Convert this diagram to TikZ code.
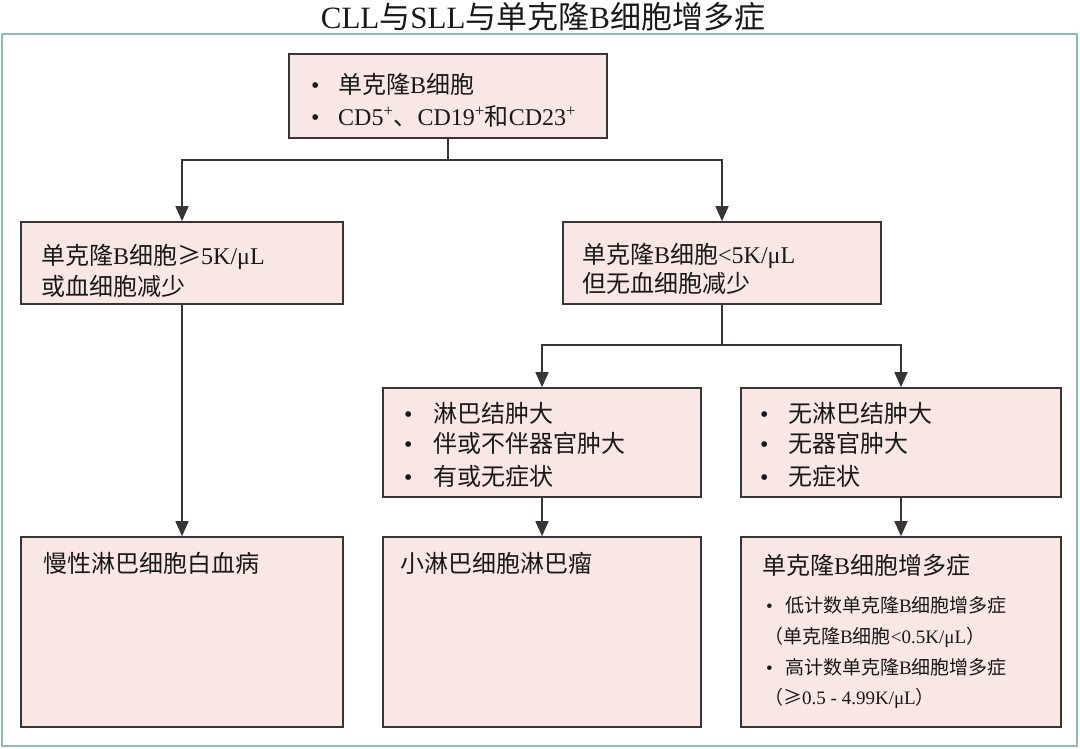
\documentclass[tikz,border=0pt]{standalone}
\usepackage{fontspec}
\setmainfont{Noto Sans CJK SC}
\newfontfamily\lat{Liberation Serif}
\usetikzlibrary{arrows.meta}
\definecolor{boxfill}{HTML}{F8E7E5}
\definecolor{boxline}{HTML}{3A3535}
\definecolor{framec}{HTML}{8DBDB2}
\newcommand{\bul}[1]{\makebox[#1][l]{\lat •}}
\begin{document}
\begin{tikzpicture}[x=1pt,y=-1pt,
  box/.style={draw=boxline, fill=boxfill, line width=1.6pt, inner sep=0pt},
  txt/.style={anchor=base west, inner sep=0pt, font=\fontsize{24}{28}\selectfont, text=black!90},
  small/.style={anchor=base west, inner sep=0pt, font=\fontsize{19}{23}\selectfont, text=black!90},
  arr/.style={draw=boxline, line width=1.4pt, -{Triangle[width=13pt,length=15pt]}},
  ln/.style={draw=boxline, line width=1.4pt}]
\useasboundingbox (0,0) rectangle (1080,749);
\fill[white] (0,0) rectangle (1080,749);
\draw[framec, line width=1.6pt] (2,34) rectangle (1077,746);
\node[font=\fontsize{31}{36}\selectfont, inner sep=0pt, text=black!90] (title) at (543,17)
  {{\lat CLL}与{\lat SLL}与单克隆{\lat B}细胞增多症};

% boxes
\node[box, minimum width=318pt, minimum height=84pt] (top) at (448,96) {};
\node[box, minimum width=322pt, minimum height=82pt] (left) at (182,263) {};
\node[box, minimum width=318pt, minimum height=82pt] (right) at (722,263) {};
\node[box, minimum width=318pt, minimum height=109pt] (slc) at (542,442.5) {};
\node[box, minimum width=320pt, minimum height=109pt] (mbc) at (901,442.5) {};
\node[box, minimum width=322pt, minimum height=190pt] (cll) at (182,632) {};
\node[box, minimum width=318pt, minimum height=190pt] (sll) at (542,632) {};
\node[box, minimum width=320pt, minimum height=190pt] (mbl) at (901,632) {};

% connectors
\coordinate (j1) at (448,160);
\coordinate (j2) at (722,345);
\draw[ln] (top.south) -- (j1);
\draw[arr] (j1) -| (left.north);
\draw[arr] (j1) -| (right.north);
\draw[ln] (right.south) -- (j2);
\draw[arr] (j2) -| (slc.north);
\draw[arr] (j2) -| (mbc.north);
\draw[arr] (left.south) -- (cll.north);
\draw[arr] (slc.south) -- (sll.north);
\draw[arr] (mbc.south) -- (mbl.north);

% texts
\node[txt] (t1) at (311,94) {\bul{27pt}单克隆{\lat B}细胞};
\node[txt] (t2) at (311,126) {\bul{27pt}{\lat CD5\textsuperscript{+}}、{\lat CD19\textsuperscript{+}}和{\lat CD23\textsuperscript{+}}};

\node[txt] (t3) at (41,265) {单克隆{\lat B}细胞≥{\lat 5K/μL}};
\node[txt] (t4) at (41,295) {或血细胞减少};

\node[txt] (t5) at (582,263) {单克隆{\lat B}细胞{\lat <5K/μL}};
\node[txt] (t6) at (582,292) {但无血细胞减少};

\node[txt] (t7) at (404,422) {\bul{29pt}淋巴结肿大};
\node[txt] (t8) at (404,452) {\bul{29pt}伴或不伴器官肿大};
\node[txt] (t9) at (404,485) {\bul{29pt}有或无症状};

\node[txt] (t10) at (760,422) {\bul{28pt}无淋巴结肿大};
\node[txt] (t11) at (760,452) {\bul{28pt}无器官肿大};
\node[txt] (t12) at (760,485) {\bul{28pt}无症状};

\node[txt] (t13) at (43,572) {慢性淋巴细胞白血病};
\node[txt] (t14) at (400,572) {小淋巴细胞淋巴瘤};
\node[txt] (t15) at (762,574) {单克隆{\lat B}细胞增多症};

\node[small] (t16) at (766,612) {\bul{19pt}低计数单克隆{\lat B}细胞增多症};
\node[small] (t17) at (764,643) {（单克隆{\lat B}细胞{\lat <0.5K/μL}）};
\node[small] (t18) at (766,674) {\bul{19pt}高计数单克隆{\lat B}细胞增多症};
\node[small] (t19) at (764,704) {（≥{\lat 0.5 - 4.99K/μL}）};
\end{tikzpicture}
\end{document}
